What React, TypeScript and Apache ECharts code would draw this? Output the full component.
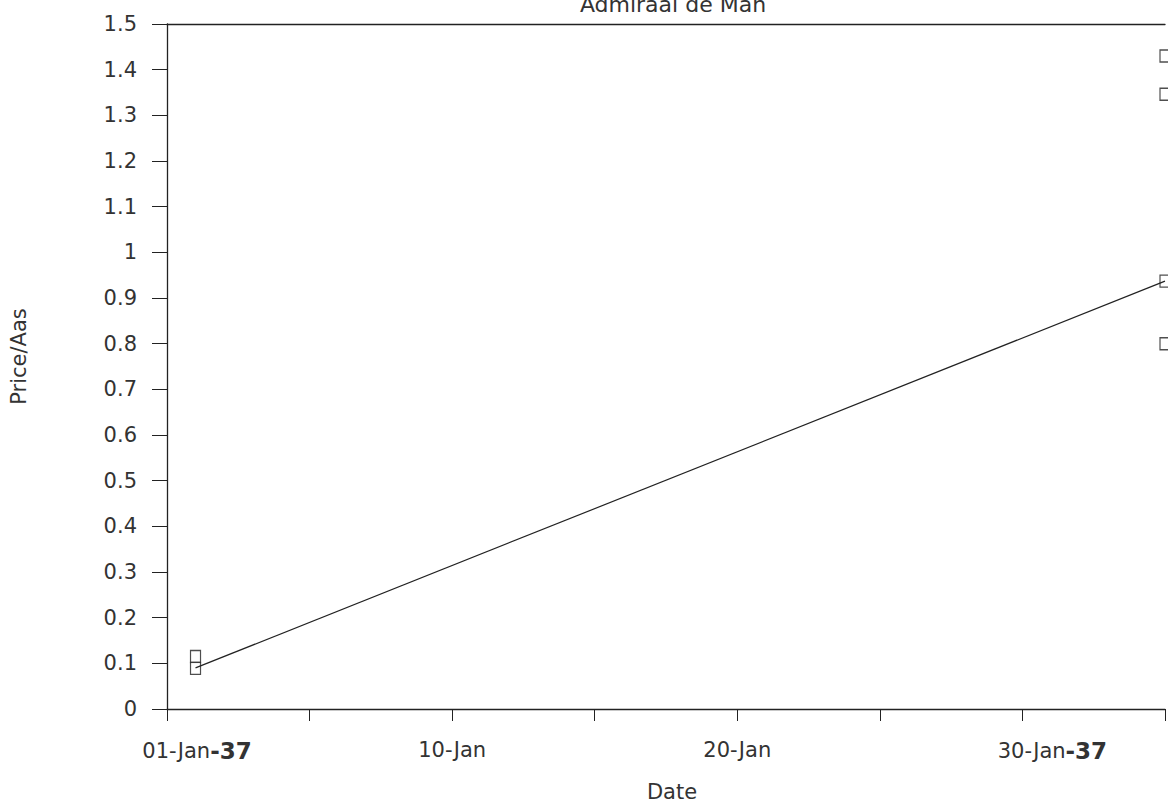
import React, { useEffect, useRef } from "react";
import * as echarts from "echarts";

const titleText = "Admiraal de Man";
const xAxisName = "Date";
const yAxisName = "Price/Aas";
// x values: days counted from 01-Jan-37 (0)
const tickLabels: Record<number, string> = { 0: "01-Jan-37", 10: "10-Jan", 20: "20-Jan", 30: "30-Jan-37" };
const lineDays = [1, 35];
const lineValues = [0.09, 0.937];
const markerDays = [1, 1, 35, 35, 35, 35];
const markerValues = [0.115, 0.089, 1.43, 1.346, 0.937, 0.8];

export default function App() {
  const ref = useRef<HTMLDivElement>(null);
  useEffect(() => {
    if (!ref.current) return;
    const chart = echarts.init(ref.current, null, { renderer: "svg" });
    const font = "DejaVu Sans";
    const ink = "#222";
    const labelInk = "#333";
    chart.setOption({
      animation: false,
      backgroundColor: "#fff",
      title: {
        text: titleText,
        left: 668,
        textAlign: "center",
        top: -12,
        textStyle: { fontFamily: font, fontSize: 22, fontWeight: "normal", color: labelInk },
      },
      grid: { left: 166, right: 0, top: 24, bottom: 94, containLabel: false },
      xAxis: [
        {
          type: "value",
          min: 0,
          max: 35,
          interval: 5,
          name: xAxisName,
          nameLocation: "middle",
          nameGap: 72,
          nameTextStyle: { fontFamily: font, fontSize: 21, color: labelInk, padding: [0, 0, 0, 12] },
          axisLine: { show: true, lineStyle: { color: ink, width: 1.3 } },
          axisTick: { show: true, inside: false, length: 12, lineStyle: { color: ink } },
          axisLabel: {
            margin: 30,
            fontFamily: font,
            fontSize: 21,
            color: labelInk,
            formatter: (v: number) => {
              const t = tickLabels[v];
              if (!t) return "";
              if (t.endsWith("-37")) return "{p|" + t.slice(0, -3) + "}{b|-37}";
              return t;
            },
            rich: {
              p: { fontFamily: font, fontSize: 21, color: labelInk, padding: [0, 0, 0, 60] },
              b: { fontFamily: font, fontSize: 23, fontWeight: "bold", color: labelInk },
            },
          },
          splitLine: { show: false },
        },
        {
          type: "value",
          position: "top",
          min: 0,
          max: 35,
          axisLine: { show: true, onZero: false, lineStyle: { color: ink, width: 1.3 } },
          axisTick: { show: false },
          axisLabel: { show: false },
          splitLine: { show: false },
        },
      ],
      yAxis: {
        type: "value",
        min: 0,
        max: 1.5,
        interval: 0.1,
        name: yAxisName,
        nameLocation: "middle",
        nameGap: 138,
        nameRotate: 90,
        nameTextStyle: { fontFamily: font, fontSize: 21, color: labelInk, padding: [0, 0, 0, 20] },
        axisLine: { show: true, lineStyle: { color: ink, width: 1.3 } },
        axisTick: { show: true, inside: false, length: 15, lineStyle: { color: ink } },
        axisLabel: {
          margin: 30,
          fontFamily: font,
          fontSize: 21,
          color: labelInk,
          formatter: (v: number) => String(Math.round(v * 10) / 10),
        },
        splitLine: { show: false },
      },
      series: [
        {
          type: "line",
          data: lineDays.map((d, i) => [d, lineValues[i]]),
          symbol: "none",
          lineStyle: { color: ink, width: 1.2 },
          clip: false,
        },
        {
          type: "scatter",
          data: markerDays.map((d, i) => [d, markerValues[i]]),
          symbol: "rect",
          symbolSize: [10, 12],
          itemStyle: { color: "#fff", borderColor: ink, borderWidth: 1.3 },
          clip: false,
        },
      ],
    });
    return () => chart.dispose();
  }, []);
  return <div ref={ref} style={{ width: 1168, height: 807, position: "absolute", left: 0, top: 0 }} />;
}
